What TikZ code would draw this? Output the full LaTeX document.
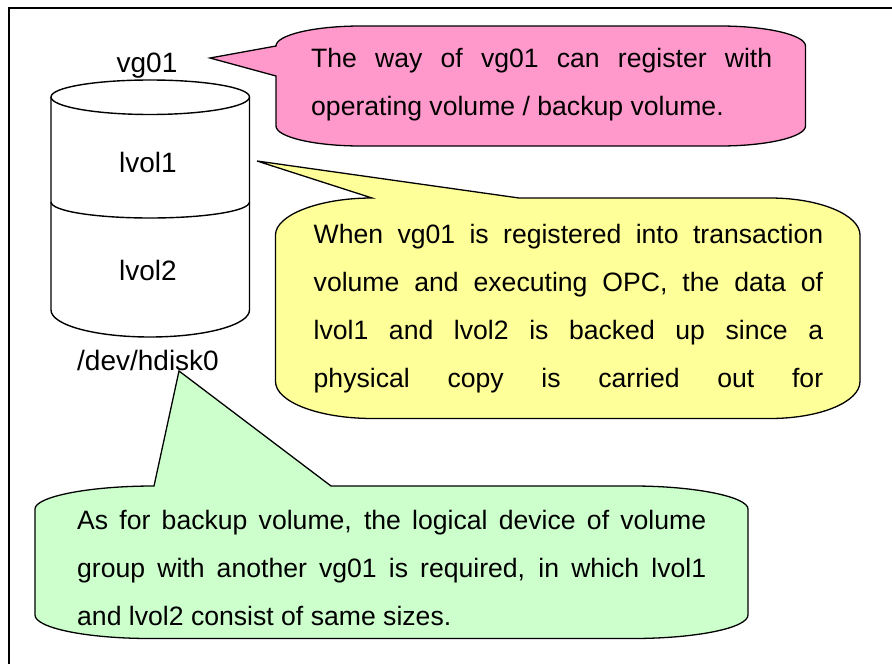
\documentclass[tikz,border=0pt]{standalone}
\usepackage{fontspec}
\setmainfont{Liberation Sans}
\newcommand{\jline}[2]{\makebox[#1pt][s]{\rule{0pt}{20pt}#2}}
\newcommand{\nline}[1]{\mbox{\rule{0pt}{20pt}#1}}
\tikzset{
  callout/.style={draw=black,line width=1.3pt,line join=miter},
  disk/.style={draw=black,line width=1.4pt,fill=white},
  frameline/.style={draw=black,line width=1.6pt},
  lbl/.style={inner sep=0pt,font=\fontsize{28}{48}\selectfont,anchor=base,text=black},
  body/.style={inner sep=0pt,anchor=north west,align=left,font=\fontsize{26.6}{48}\selectfont,text=black}
}
\definecolor{cpink}{HTML}{FF99CC}
\definecolor{cyellow}{HTML}{FFFF99}
\definecolor{cgreen}{HTML}{CCFFCC}
\begin{document}
\begin{tikzpicture}[x=1pt,y=-1pt]
\useasboundingbox (0,0) rectangle (892,664);
\fill[white] (0,0) rectangle (892,664);
\draw[frameline] (9,664) -- (9,8) -- (892,8);
% cylinder
\draw[disk] (51,97) -- (51,310) .. controls (51,325) and (95,337) .. (150,337) .. controls (205,337) and (249.5,325) .. (249.5,310) -- (249.5,97)
  .. controls (249.5,87.5) and (205,80) .. (150,80) .. controls (95,80) and (51,87.5) .. (51,97) -- cycle;
\draw[disk,fill=none] (51,97) .. controls (51,106.5) and (95,114.5) .. (150,114.5) .. controls (205,114.5) and (249.5,106.5) .. (249.5,97);
\draw[disk,fill=none] (51,202) .. controls (51,211) and (95,218) .. (150,218) .. controls (205,218) and (249.5,211) .. (249.5,202);
\node[lbl] (vg) at (147,72) {vg01};
\node[lbl] (lv1) at (148,172) {lvol1};
\node[lbl] (lv2) at (148,280) {lvol2};
\node[lbl] (hd) at (148,370) {/dev/hdisk0};
% pink
\draw[callout,fill=cpink] (276,46) -- (210,58) -- (276,76) -- (276,126) .. controls (276,137) and (314,146) .. (361,146) -- (720,146) .. controls (767,146) and (805.5,137) .. (805.5,126) -- (805.5,46) .. controls (805.5,35) and (767,26) .. (720,26) -- (361,26) .. controls (314,26) and (276,35) .. (276,46) -- cycle;
\node[body] (pinktext) at (311,47) {\jline{461}{The way of vg01 can register with}\\\nline{operating volume / backup volume.}};
% yellow
\draw[callout,fill=cyellow] (372,198) -- (257,161) -- (519,198) -- (770,198) .. controls (820,198) and (860,215) .. (860,235) -- (860,381.5) .. controls (860,402) and (820,418.5) .. (770,418.5) -- (372.5,418.5) .. controls (319,418.5) and (275.5,402) .. (275.5,381.5) -- (275.5,235) .. controls (275.5,215) and (319,198) .. (372,198) -- cycle;
\node[body] (yellowtext) at (313.5,223) {\jline{509.5}{When vg01 is registered into transaction}\\\jline{509.5}{volume and executing OPC, the data of}\\\jline{509.5}{lvol1 and lvol2 is backed up since a}\\\jline{509.5}{physical copy is carried out for}};
% green
\draw[callout,fill=cgreen] (154,486) -- (179,371) -- (331,486) -- (633,486) .. controls (696,486) and (748,497) .. (748,509) -- (748,615) .. controls (748,628) and (696,638.5) .. (633,638.5) -- (150,638.5) .. controls (87,638.5) and (35,628) .. (35,615) -- (35,509) .. controls (35,497) and (87,486) .. (154,486) -- cycle;
\node[body] (greentext) at (77,509) {\jline{629}{As for backup volume, the logical device of volume}\\\jline{629}{group with another vg01 is required, in which lvol1}\\\nline{and lvol2 consist of same sizes.}};
\end{tikzpicture}
\end{document}
